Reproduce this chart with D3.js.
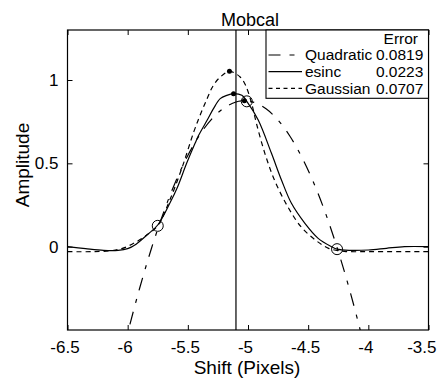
<!DOCTYPE html>
<html>
<head>
<meta charset="utf-8">
<script src="https://cdn.jsdelivr.net/npm/d3@7"></script>
<style>
  html, body { margin: 0; padding: 0; background: #fff; }
  text { font-family: "Liberation Sans", Arial, sans-serif; fill: #000; }
</style>
</head>
<body>
<svg id="chart" width="437" height="378"></svg>
<script>
// ---- data ----
const titleText = "Mobcal";
const xLabelText = "Shift (Pixels)";
const yLabelText = "Amplitude";
const xTicks = [-6.5, -6, -5.5, -5, -4.5, -4, -3.5];
const yTicks = [0, 0.5, 1];
const xDomain = [-6.5, -3.5];
const yDomain = [-0.5, 1.3];

const quadX = [-6.05, -6.0, -5.9, -5.8, -5.7, -5.6, -5.5, -5.4, -5.3, -5.2, -5.1, -5.03, -4.95, -4.85, -4.75, -4.65, -4.55, -4.45, -4.35, -4.25, -4.15, -4.05, -4.0];
const quadY = [-0.67, -0.52, -0.248, -0.005, 0.209, 0.393, 0.547, 0.672, 0.767, 0.832, 0.868, 0.875, 0.866, 0.827, 0.759, 0.661, 0.533, 0.376, 0.189, -0.028, -0.274, -0.55, -0.70];

const esincX = [-6.5, -6.35, -6.2, -6.08, -6.0, -5.93, -5.84, -5.75, -5.65, -5.59, -5.51, -5.44, -5.41, -5.34, -5.287, -5.231, -5.176, -5.12, -5.051, -5.01, -4.915, -4.805, -4.722, -4.639, -4.527, -4.417, -4.306, -4.26, -4.15, -4.0, -3.85, -3.7, -3.5];
const esincY = [0.0, -0.012, -0.022, -0.022, -0.012, 0.015, 0.07, 0.13, 0.26, 0.35, 0.50, 0.62, 0.668, 0.758, 0.828, 0.888, 0.908, 0.918, 0.908, 0.872, 0.76, 0.56, 0.40, 0.26, 0.14, 0.05, 0.0, -0.015, -0.022, -0.02, -0.01, 0.0, 0.0];

const gaussX = [-6.5, -6.3, -6.15, -6.05, -5.95, -5.85, -5.75, -5.65, -5.55, -5.45, -5.4, -5.34, -5.29, -5.23, -5.154, -5.065, -5.02, -4.97, -4.93, -4.86, -4.78, -4.67, -4.56, -4.44, -4.33, -4.2, -4.0, -3.5];
const gaussY = [-0.03, -0.03, -0.025, -0.012, 0.02, 0.065, 0.126, 0.28, 0.47, 0.69, 0.785, 0.888, 0.965, 1.018, 1.052, 1.018, 0.968, 0.86, 0.74, 0.56, 0.40, 0.24, 0.12, 0.04, -0.01, -0.028, -0.03, -0.03];

const sampleX = [-5.75, -5.01, -4.26];
const sampleY = [0.125, 0.872, -0.015];

const peakX = [-5.03, -5.12, -5.154];
const peakY = [0.875, 0.918, 1.052];

const trueShift = -5.1;

const legendHeader = "Error";
const legendNames = ["Quadratic", "esinc", "Gaussian"];
const legendErrors = ["0.0819", "0.0223", "0.0707"];

// ---- drawing ----
const svg = d3.select("#chart");
const pLeft = 67.5, pRight = 428.5, pTop = 30, pBottom = 330;
const x = d3.scaleLinear().domain(xDomain).range([pLeft, pRight]);
const y = d3.scaleLinear().domain(yDomain).range([pBottom, pTop]);

svg.append("rect").attr("width", 437).attr("height", 378).attr("fill", "#fff");

svg.append("defs").append("clipPath").attr("id", "plotclip")
  .append("rect").attr("x", pLeft).attr("y", pTop)
  .attr("width", pRight - pLeft).attr("height", pBottom - pTop);

const dashes = ["13,9,4,9", null, "5,4"];

const series = [
  quadX.map((d, i) => [d, quadY[i]]),
  esincX.map((d, i) => [d, esincY[i]]),
  gaussX.map((d, i) => [d, gaussY[i]])
];

const line = d3.line().x(d => x(d[0])).y(d => y(d[1])).curve(d3.curveCatmullRom.alpha(0.5));

const plot = svg.append("g").attr("clip-path", "url(#plotclip)");
series.forEach((s, i) => {
  plot.append("path").datum(s)
    .attr("d", line)
    .attr("fill", "none")
    .attr("stroke", "#000")
    .attr("stroke-width", 1.2)
    .attr("stroke-dasharray", dashes[i]);
});

// true shift vertical line
plot.append("line")
  .attr("x1", x(trueShift)).attr("x2", x(trueShift))
  .attr("y1", pTop).attr("y2", pBottom)
  .attr("stroke", "#000").attr("stroke-width", 1.2);

// sample circles
plot.selectAll("circle.sample").data(sampleX).enter().append("circle")
  .attr("class", "sample")
  .attr("cx", d => x(d)).attr("cy", (d, i) => y(sampleY[i]))
  .attr("r", 5.5).attr("fill", "none").attr("stroke", "#000").attr("stroke-width", 1);

// peak dots
plot.selectAll("circle.peak").data(peakX).enter().append("circle")
  .attr("class", "peak")
  .attr("cx", d => x(d)).attr("cy", (d, i) => y(peakY[i]))
  .attr("r", 2.5).attr("fill", "#000");

// axes (ticks inward on all sides)
const tickLen = 5;
const fmt = d => String(d).replace("\u2212", "-");
const axB = svg.append("g").attr("transform", `translate(0,${pBottom})`)
  .call(d3.axisBottom(x).tickValues(xTicks).tickSizeInner(-tickLen).tickSizeOuter(0).tickPadding(10).tickFormat(fmt));
const axT = svg.append("g").attr("transform", `translate(0,${pTop})`)
  .call(d3.axisTop(x).tickValues(xTicks).tickSizeInner(-tickLen).tickSizeOuter(0).tickFormat(""));
const axL = svg.append("g").attr("transform", `translate(${pLeft},0)`)
  .call(d3.axisLeft(y).tickValues(yTicks).tickSizeInner(-tickLen).tickSizeOuter(0).tickPadding(9).tickFormat(fmt));
const axR = svg.append("g").attr("transform", `translate(${pRight},0)`)
  .call(d3.axisRight(y).tickValues(yTicks).tickSizeInner(-tickLen).tickSizeOuter(0).tickFormat(""));

[axB, axT, axL, axR].forEach(a => {
  a.select(".domain").remove();
  a.selectAll(".tick line").attr("stroke", "#000").attr("stroke-width", 1);
});
axB.selectAll(".tick text").attr("font-size", 17).attr("dy", null).attr("y", 23)
  .attr("font-family", '"Liberation Sans", Arial, sans-serif').attr("fill", "#000")
  .attr("dx", -3);
// last label is pulled in so it stays inside the picture, as in the reference
axB.selectAll(".tick text").filter(d => d === xTicks[xTicks.length - 1])
  .attr("text-anchor", "end").attr("dx", 436 - pRight);
axL.selectAll(".tick text").attr("font-size", 17).attr("x", -9)
  .attr("font-family", '"Liberation Sans", Arial, sans-serif').attr("fill", "#000");

// box
svg.append("rect").attr("x", pLeft).attr("y", pTop)
  .attr("width", pRight - pLeft).attr("height", pBottom - pTop)
  .attr("fill", "none").attr("stroke", "#000").attr("stroke-width", 1.2);

// title & labels
svg.append("text").attr("x", (pLeft + pRight) / 2 + 2).attr("y", 25.5)
  .attr("text-anchor", "middle").attr("font-size", 18).text(titleText);
svg.append("text").attr("x", 247).attr("y", 374)
  .attr("text-anchor", "middle").attr("font-size", 19).text(xLabelText);
svg.append("text").attr("transform", "translate(28.5,165) rotate(-90)")
  .attr("text-anchor", "middle").attr("font-size", 19).text(yLabelText);

// legend
const lg = svg.append("g");
lg.append("rect").attr("x", 266).attr("y", pTop).attr("width", pRight - 266).attr("height", 68.3)
  .attr("fill", "#fff").attr("stroke", "#000").attr("stroke-width", 1.1);
lg.append("text").attr("x", 418).attr("y", 44.3).attr("text-anchor", "end")
  .attr("font-size", 15.5).text(legendHeader);
const rowBase = [60.2, 76.8, 93.6];
legendNames.forEach((name, i) => {
  const ly = rowBase[i] - 5.2;
  lg.append("line").attr("x1", 268.5).attr("x2", 302).attr("y1", ly).attr("y2", ly)
    .attr("stroke", "#000").attr("stroke-width", 1.1)
    .attr("stroke-dasharray", i === 0 ? "12,9,5,9" : (i === 2 ? "4,3.5" : null));
  lg.append("text").attr("x", 305).attr("y", rowBase[i]).attr("font-size", 15.5).text(name);
  lg.append("text").attr("x", 423.3).attr("y", rowBase[i]).attr("text-anchor", "end")
    .attr("font-size", 15.5).text(legendErrors[i]);
});
</script>
</body>
</html>
